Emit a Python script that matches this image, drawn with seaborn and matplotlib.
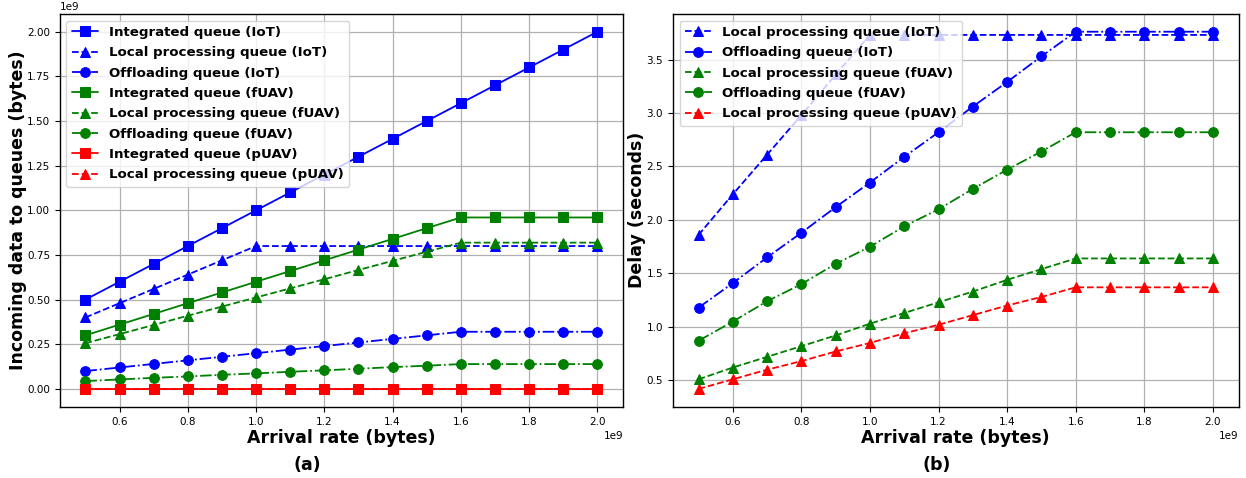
import numpy as np
import pandas as pd
import matplotlib
matplotlib.use("Agg")
import matplotlib.pyplot as plt
import seaborn as sns

sns.set_style("ticks")
plt.rcParams['font.family'] = ['DejaVu Sans']
plt.rcParams.update({"text.color": "black", "axes.labelcolor": "black",
                     "xtick.color": "black", "ytick.color": "black"})

# Arrival rate (bytes)
arrival = [0.5e9, 0.6e9, 0.7e9, 0.8e9, 0.9e9, 1.0e9, 1.1e9, 1.2e9,
           1.3e9, 1.4e9, 1.5e9, 1.6e9, 1.7e9, 1.8e9, 1.9e9, 2.0e9]

# (a) Incoming data to queues (units of 1e9 bytes)
iot_integrated = [0.50, 0.60, 0.70, 0.80, 0.90, 1.00, 1.10, 1.20, 1.30, 1.40, 1.50, 1.60, 1.70, 1.80, 1.90, 2.00]
iot_local = [0.40, 0.48, 0.56, 0.64, 0.72, 0.80, 0.80, 0.80, 0.80, 0.80, 0.80, 0.80, 0.80, 0.80, 0.80, 0.80]
iot_offload = [0.10, 0.12, 0.14, 0.16, 0.18, 0.20, 0.22, 0.24, 0.26, 0.28, 0.30, 0.32, 0.32, 0.32, 0.32, 0.32]
fuav_integrated = [0.30, 0.36, 0.42, 0.48, 0.54, 0.60, 0.66, 0.72, 0.78, 0.84, 0.90, 0.96, 0.96, 0.96, 0.96, 0.96]
fuav_local = [0.256, 0.307, 0.358, 0.410, 0.461, 0.512, 0.563, 0.614, 0.666, 0.717, 0.768, 0.819, 0.819, 0.819, 0.819, 0.819]
fuav_offload = [0.044, 0.053, 0.062, 0.070, 0.079, 0.087, 0.096, 0.104, 0.113, 0.122, 0.130, 0.139, 0.139, 0.139, 0.139, 0.139]
puav_integrated = [0.0, 0.0, 0.0, 0.0, 0.0, 0.0, 0.0, 0.0, 0.0, 0.0, 0.0, 0.0, 0.0, 0.0, 0.0, 0.0]
puav_local = [0.0, 0.0, 0.0, 0.0, 0.0, 0.0, 0.0, 0.0, 0.0, 0.0, 0.0, 0.0, 0.0, 0.0, 0.0, 0.0]

# (b) Delay (seconds)
d_iot_local = [1.86, 2.24, 2.61, 2.98, 3.36, 3.73, 3.73, 3.73, 3.73, 3.73, 3.73, 3.73, 3.73, 3.73, 3.73, 3.73]
d_iot_offload = [1.18, 1.41, 1.65, 1.88, 2.12, 2.35, 2.59, 2.82, 3.06, 3.29, 3.53, 3.76, 3.76, 3.76, 3.76, 3.76]
d_fuav_local = [0.51, 0.62, 0.72, 0.82, 0.92, 1.03, 1.13, 1.23, 1.33, 1.44, 1.54, 1.64, 1.64, 1.64, 1.64, 1.64]
d_fuav_offload = [0.87, 1.05, 1.24, 1.40, 1.59, 1.75, 1.94, 2.10, 2.29, 2.47, 2.64, 2.82, 2.82, 2.82, 2.82, 2.82]
d_puav_local = [0.42, 0.51, 0.60, 0.68, 0.77, 0.85, 0.94, 1.02, 1.11, 1.20, 1.28, 1.37, 1.37, 1.37, 1.37, 1.37]

left_series = [
    ("Integrated queue (IoT)", iot_integrated, "blue", "-", "s"),
    ("Local processing queue (IoT)", iot_local, "blue", "--", "^"),
    ("Offloading queue (IoT)", iot_offload, "blue", "-.", "o"),
    ("Integrated queue (fUAV)", fuav_integrated, "green", "-", "s"),
    ("Local processing queue (fUAV)", fuav_local, "green", "--", "^"),
    ("Offloading queue (fUAV)", fuav_offload, "green", "-.", "o"),
    ("Integrated queue (pUAV)", puav_integrated, "red", "-", "s"),
    ("Local processing queue (pUAV)", puav_local, "red", "--", "^"),
]
right_series = [
    ("Local processing queue (IoT)", d_iot_local, "blue", "--", "^"),
    ("Offloading queue (IoT)", d_iot_offload, "blue", "-.", "o"),
    ("Local processing queue (fUAV)", d_fuav_local, "green", "--", "^"),
    ("Offloading queue (fUAV)", d_fuav_offload, "green", "-.", "o"),
    ("Local processing queue (pUAV)", d_puav_local, "red", "--", "^"),
]

fig = plt.figure(figsize=(12.46, 4.78), dpi=100)
ax1 = fig.add_axes([0.048, 0.149, 0.452, 0.822])
ax2 = fig.add_axes([0.540, 0.149, 0.454, 0.822])

x = np.array(arrival)
for label, vals, c, ls, mk in left_series:
    df = pd.DataFrame({"x": x, "y": np.array(vals) * 1e9})
    sns.lineplot(data=df, x="x", y="y", ax=ax1, color=c, linestyle=ls, marker=mk,
                 markersize=7, markeredgecolor=c, linewidth=1.3, label=label)
for label, vals, c, ls, mk in right_series:
    df = pd.DataFrame({"x": x, "y": np.array(vals)})
    sns.lineplot(data=df, x="x", y="y", ax=ax2, color=c, linestyle=ls, marker=mk,
                 markersize=7, markeredgecolor=c, linewidth=1.3, label=label)

for ax, ylab in [(ax1, "Incoming data to queues (bytes)"), (ax2, "Delay (seconds)")]:
    ax.grid(True, color="#b0b0b0", linewidth=0.9)
    ax.set_xlabel("Arrival rate (bytes)", fontsize=12.5, fontweight="bold", labelpad=1.5)
    ax.set_ylabel(ylab, fontsize=12.5, fontweight="bold", labelpad=0)
    ax.tick_params(labelsize=7.5, length=3.5, width=0.8)
    for s in ax.spines.values():
        s.set_color("black")
        s.set_linewidth(1.0)
    ax.xaxis.get_offset_text().set_fontsize(7.5)
    ax.yaxis.get_offset_text().set_fontsize(7.5)
    ax.legend(loc="upper left", prop={"weight": "bold", "size": 9.6}, handlelength=2.0,
              borderaxespad=0.5, labelspacing=0.55)

ax1.set_xticks([0.6e9, 0.8e9, 1.0e9, 1.2e9, 1.4e9, 1.6e9, 1.8e9, 2.0e9])
ax2.set_xticks([0.6e9, 0.8e9, 1.0e9, 1.2e9, 1.4e9, 1.6e9, 1.8e9, 2.0e9])

fig.text(0.2465, 0.027, "(a)", ha="center", va="center", fontsize=12.5, fontweight="bold")
fig.text(0.752, 0.027, "(b)", ha="center", va="center", fontsize=12.5, fontweight="bold")

fig.savefig("out.png", dpi=100)
